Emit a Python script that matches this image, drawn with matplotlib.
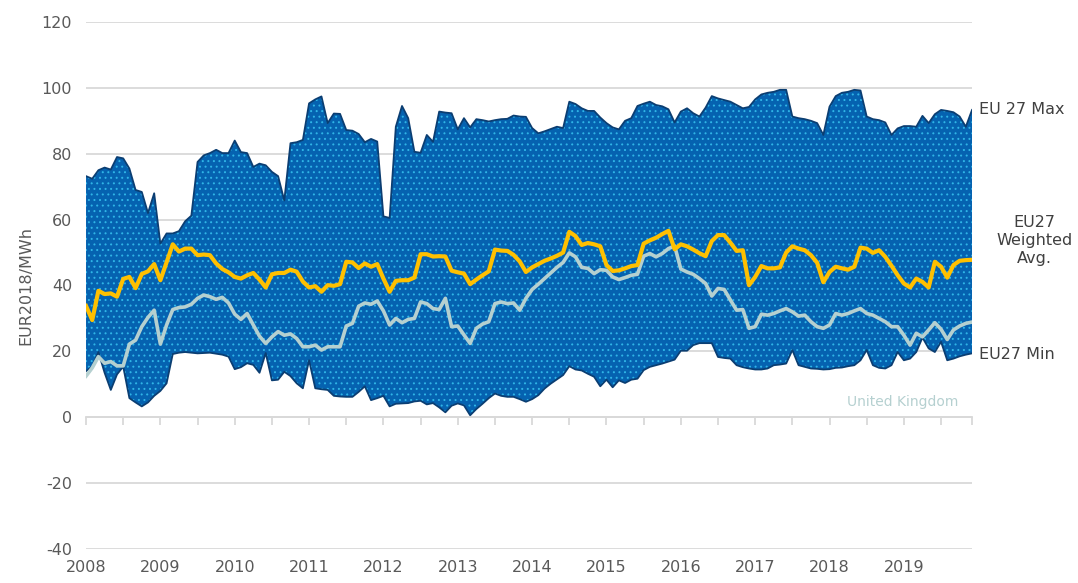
import numpy as np
import matplotlib
matplotlib.use("Agg")
import matplotlib.pyplot as plt

# ---- data (monthly, Jan 2008 - Dec 2019), EUR2018/MWh ----
years = ["2008", "2009", "2010", "2011", "2012", "2013", "2014", "2015",
         "2016", "2017", "2018", "2019"]

eu27_max = [73.2, 72.4, 75.0, 75.8, 75.2, 79.0, 78.6, 75.5, 69.0, 68.4, 62.0, 68.0,
            52.7, 55.8, 55.8, 56.5, 59.5, 61.2, 77.5, 79.5, 80.2, 81.2, 80.2, 80.2,
            84.0, 80.5, 80.2, 76.0, 77.0, 76.5, 74.5, 73.2, 65.8, 83.2, 83.5, 84.2,
            95.3, 96.5, 97.4, 89.3, 92.2, 92.1, 87.2, 87.0, 86.0, 83.5, 84.5, 83.7,
            61.0, 60.5, 88.2, 94.5, 90.8, 80.6, 80.3, 85.7, 83.6, 92.8, 92.5, 92.3,
            87.4, 90.8, 88.0, 90.5, 90.2, 89.8, 90.2, 90.5, 90.6, 91.6, 91.3, 91.2,
            87.8, 86.2, 86.8, 87.5, 88.2, 87.8, 95.8, 95.1, 93.8, 93.0, 93.0, 91.0,
            89.3, 88.0, 87.4, 90.0, 90.8, 94.5, 95.2, 95.8, 94.8, 94.4, 93.5, 89.5,
            92.8, 93.8, 92.3, 91.3, 94.0, 97.5, 96.8, 96.3, 95.8, 94.8, 93.8, 94.2,
            96.5, 98.0, 98.5, 98.8, 99.4, 99.4, 91.3, 90.8, 90.5, 90.0, 89.3, 85.7,
            94.3, 97.5, 98.5, 98.8, 99.4, 99.2, 91.3, 90.5, 90.2, 89.5, 85.7, 87.7,
            88.4, 88.4, 88.2, 91.5, 89.3, 92.0, 93.3, 93.0, 92.6, 91.3, 88.2, 93.3]

eu27_min = [14.0, 15.4, 19.8, 13.5, 8.3, 13.0, 15.4, 5.8, 4.5, 3.3, 4.5, 6.5,
            8.0, 10.3, 19.2, 19.6, 19.8, 19.6, 19.4, 19.5, 19.6, 19.3, 19.0, 18.4,
            14.6, 15.2, 16.4, 15.9, 13.5, 19.5, 11.2, 11.4, 13.8, 12.5, 10.3, 8.8,
            17.3, 8.8, 8.5, 8.3, 6.5, 6.3, 6.2, 6.2, 7.7, 9.4, 5.2, 5.8,
            6.5, 3.3, 4.1, 4.2, 4.3, 4.8, 5.0, 3.9, 4.3, 3.0, 1.5, 3.5,
            4.2, 3.6, 0.6, 2.5, 4.1, 5.8, 7.2, 6.5, 6.2, 6.2, 5.5, 4.7,
            5.5, 6.7, 8.7, 10.2, 11.5, 12.8, 15.5, 14.5, 14.2, 13.2, 12.3, 9.4,
            11.4, 9.1, 11.2, 10.4, 11.4, 11.7, 14.3, 15.3, 15.8, 16.3, 16.9, 17.5,
            20.2, 20.2, 21.9, 22.5, 22.5, 22.5, 18.3, 18.0, 17.8, 15.8, 15.2, 14.8,
            14.5, 14.5, 14.8, 15.8, 16.0, 16.3, 20.4, 15.8, 15.3, 14.8, 14.7, 14.5,
            14.6, 15.0, 15.1, 15.5, 15.8, 17.3, 20.4, 15.8, 15.0, 14.8, 15.8, 19.8,
            17.3, 17.8, 19.8, 24.2, 20.9, 19.8, 22.9, 17.3, 17.8, 18.5, 19.0, 19.4]

eu27_avg = [33.8, 29.5, 38.4, 37.4, 37.6, 36.6, 42.0, 42.6, 39.2, 43.5, 44.3, 46.5,
            41.6, 47.0, 52.5, 50.3, 51.2, 51.2, 49.2, 49.4, 49.2, 46.7, 45.0, 44.0,
            42.6, 42.1, 43.1, 43.8, 41.8, 39.4, 43.4, 43.8, 43.8, 44.8, 44.2, 41.2,
            39.4, 39.8, 38.1, 40.1, 39.9, 40.4, 47.2, 47.0, 45.3, 46.7, 45.7, 46.5,
            42.1, 38.1, 41.4, 41.6, 41.6, 42.4, 49.5, 49.5, 48.8, 48.9, 48.8, 44.5,
            44.0, 43.6, 40.4, 41.8, 43.1, 44.3, 50.9, 50.6, 50.5, 49.3, 47.3, 44.1,
            45.5, 46.5, 47.5, 48.2, 49.0, 50.0, 56.3, 55.0, 52.3, 52.9, 52.5, 51.9,
            46.2, 44.4, 44.6, 45.2, 45.9, 46.2, 52.7, 53.7, 54.5, 55.6, 56.6, 51.0,
            52.5, 51.9, 50.9, 49.8, 48.9, 53.5, 55.3, 55.3, 53.0, 50.5, 50.7, 40.1,
            42.6, 45.9, 45.2, 45.2, 45.5, 50.0, 51.9, 51.2, 50.7, 49.2, 46.9, 41.0,
            44.1, 45.7, 45.2, 44.8, 45.7, 51.5, 51.2, 49.9, 50.7, 48.7, 46.0, 43.1,
            40.6, 39.4, 42.1, 41.1, 39.4, 47.2, 45.7, 42.4, 46.2, 47.5, 47.7, 47.8]

uk = [12.5, 15.0, 18.4, 16.4, 16.9, 15.6, 15.6, 22.2, 23.4, 27.5, 30.3, 32.5,
      22.2, 28.0, 32.7, 33.3, 33.5, 34.3, 36.1, 37.1, 36.6, 35.8, 36.4, 34.7,
      31.3, 29.7, 31.5, 28.0, 24.6, 22.4, 24.4, 26.0, 24.9, 25.3, 23.9, 21.4,
      21.4, 21.9, 20.4, 21.4, 21.4, 21.4, 27.7, 28.5, 33.7, 34.7, 34.3, 35.3,
      32.3, 28.0, 30.0, 28.7, 29.7, 30.0, 35.0, 34.5, 33.0, 32.7, 36.1, 27.5,
      27.7, 25.0, 22.4, 27.0, 28.3, 29.0, 34.5, 35.0, 34.5, 34.7, 32.5, 36.1,
      38.8, 40.4, 42.1, 43.8, 45.5, 47.0, 49.9, 48.7, 45.5, 45.2, 43.6, 44.8,
      44.6, 42.6, 41.8, 42.4, 43.1, 43.4, 48.9, 49.7, 48.7, 49.7, 51.2, 52.0,
      45.0, 44.1, 43.4, 42.1, 40.6, 36.8, 39.1, 38.8, 35.6, 32.5, 32.7, 27.0,
      27.5, 31.3, 31.0, 31.5, 32.3, 33.0, 32.0, 30.7, 31.0, 29.0, 27.5, 27.0,
      28.0, 31.5, 31.0, 31.5, 32.3, 33.0, 31.5, 31.0, 30.0, 29.0, 27.5, 27.5,
      24.9, 21.9, 25.5, 24.4, 26.5, 28.7, 26.7, 23.6, 26.5, 27.7, 28.5, 28.9]

y_ticks = [-40, -20, 0, 20, 40, 60, 80, 100, 120]

# ---- styling ----
FILL = "#0562B0"
EDGE = "#0B3E72"
DOTS = "#2FB4E6"
AVG = "#FFC000"
UKC = "#B5D0D0"
GRID = "#D9D9D9"
TXT = "#595959"
LAB = "#404040"

plt.rcParams["font.family"] = ["DejaVu Sans"]
plt.rcParams["hatch.linewidth"] = 0.7

fig = plt.figure(figsize=(10.78, 5.83), dpi=100)
ax = fig.add_axes([0.0798, 0.0583, 0.9017 - 0.0798, 0.9623 - 0.0583])

n = len(eu27_max)
x = np.arange(n)

ax.fill_between(x, eu27_min, eu27_max, facecolor=FILL, edgecolor="none",
                linewidth=0, zorder=2)
ax.fill_between(x, eu27_min, eu27_max, facecolor="none", edgecolor=DOTS,
                hatch="...", linewidth=0, zorder=2.1)
ax.plot(x, eu27_max, color=EDGE, lw=1.3, zorder=2.2)
ax.plot(x, eu27_min, color=EDGE, lw=1.3, zorder=2.2)
ax.plot(x, uk, color=UKC, lw=2.6, zorder=3, solid_joinstyle="round")
ax.plot(x, eu27_avg, color=AVG, lw=3.0, zorder=4, solid_joinstyle="round")

ax.set_xlim(0, n - 1)
ax.set_ylim(-40, 120)
ax.set_yticks(y_ticks)
ax.set_yticklabels([str(v) for v in y_ticks], color=TXT, fontsize=11.5)
ax.tick_params(axis="y", length=0, pad=10)
ax.grid(axis="y", color=GRID, lw=1.3, zorder=0)
ax.set_axisbelow(True)

for s in ["left", "right", "top"]:
    ax.spines[s].set_visible(False)
ax.spines["bottom"].set_position(("data", 0))
ax.spines["bottom"].set_color(GRID)
ax.spines["bottom"].set_linewidth(1.3)
ax.spines["bottom"].set_zorder(1)
xt = list(range(0, n, 6)) + [n - 1]
ax.set_xticks(xt)
ax.set_xticklabels([])
ax.tick_params(axis="x", direction="out", length=6, width=1.3, color=GRID)

for k, yr in enumerate(years):
    ax.annotate(yr, xy=(12 * k, 0), xycoords=("data", "axes fraction"),
                xytext=(0, -8), textcoords="offset points",
                ha="center", va="top", color=TXT, fontsize=11.5,
                annotation_clip=False)

ax.set_ylabel("EUR2018/MWh", color=TXT, fontsize=11.5, labelpad=6)

# right-side labels
ax.annotate("EU 27 Max", xy=(1, eu27_max[-1]), xycoords=("axes fraction", "data"),
            xytext=(5, 0), textcoords="offset points", ha="left", va="center",
            color=LAB, fontsize=11.5, annotation_clip=False)
ax.annotate("EU27\nWeighted\nAvg.", xy=(1, eu27_avg[-1]), xycoords=("axes fraction", "data"),
            xytext=(45, 14), textcoords="offset points", ha="center", va="center",
            color=LAB, fontsize=11.5, linespacing=1.25, annotation_clip=False)
ax.annotate("EU27 Min", xy=(1, eu27_min[-1]), xycoords=("axes fraction", "data"),
            xytext=(5, -1), textcoords="offset points", ha="left", va="center",
            color=LAB, fontsize=11.5, annotation_clip=False)
ax.text(0.985, 4.5, "United Kingdom", transform=ax.get_yaxis_transform(),
        ha="right", va="center", color=UKC, fontsize=10)

fig.savefig("out.png", dpi=100)
